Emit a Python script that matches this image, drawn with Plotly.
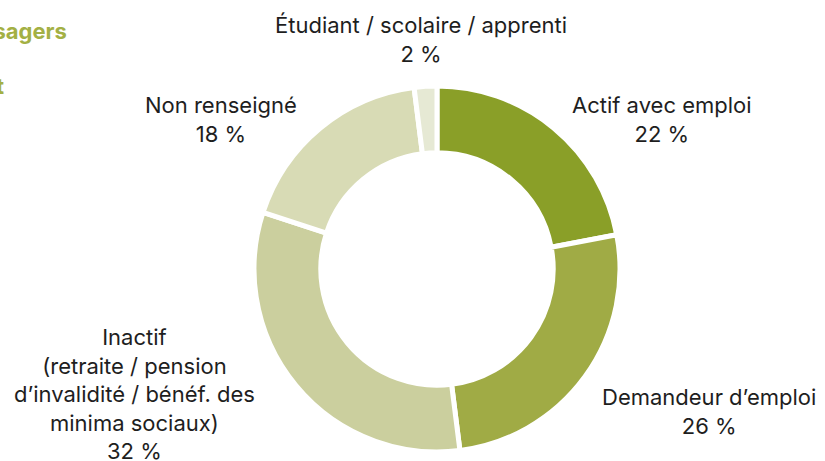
import plotly.graph_objects as go

# Données
categories = ["Actif avec emploi", "Demandeur d’emploi",
              "Inactif<br>(retraite / pension<br>d’invalidité / bénéf. des<br>minima sociaux)",
              "Non renseigné", "Étudiant / scolaire / apprenti"]
values = [22, 26, 32, 18, 2]
colors = ["#8a9f28", "#a0ab45", "#cbcf9e", "#d8dbb5", "#e6e9d4"]

# positions des étiquettes (pixels)
label_pos = [(662, 119), (709, 411), (134, 394), (221, 119), (421, 39)]

W, H = 825, 461


def fx(px):
    return px / W


def fy(py):
    return 1 - py / H


cx, cy, r = 437, 269, 183

fig = go.Figure(go.Pie(
    labels=categories,
    values=values,
    hole=0.635,
    sort=False,
    direction="clockwise",
    rotation=0,
    marker=dict(colors=colors, line=dict(color="white", width=5)),
    textinfo="none",
    hoverinfo="label+percent",
    domain=dict(x=[fx(cx - r), fx(cx + r)], y=[fy(cy + r), fy(cy - r)]),
    showlegend=False,
))

for cat, val, (px, py) in zip(categories, values, label_pos):
    fig.add_annotation(
        x=fx(px), y=fy(py), xref="paper", yref="paper",
        text=f"{cat}<br>{val} %", showarrow=False,
        xanchor="center", yanchor="middle", align="center",
        font=dict(family="Inter", size=22, color="#1e1e1e"),
    )

# bribes du titre (coupé à gauche)
fig.add_annotation(x=fx(69), y=fy(31), xref="paper", yref="paper",
                   text="<b>Profil des usagers</b>", showarrow=False,
                   xanchor="right", yanchor="middle",
                   font=dict(family="Inter", size=22, color="#a3b044"))
fig.add_annotation(x=fx(6), y=fy(86), xref="paper", yref="paper",
                   text="<b>Statut</b>", showarrow=False,
                   xanchor="right", yanchor="middle",
                   font=dict(family="Inter", size=22, color="#a3b044"))

fig.update_layout(
    width=W, height=H,
    margin=dict(l=0, r=0, t=0, b=0),
    paper_bgcolor="white",
    plot_bgcolor="white",
)

fig.write_html("out.html", config={"displayModeBar": False},
               post_script="document.body.style.margin = '0';")
